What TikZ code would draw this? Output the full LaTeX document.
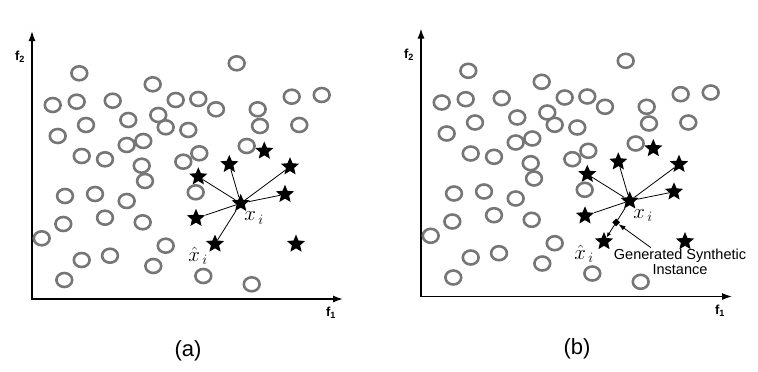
\documentclass[tikz,border=0pt]{standalone}
\usepackage{fontspec}
\setsansfont{Liberation Sans}
\usetikzlibrary{arrows.meta,shapes.geometric,calc}

\definecolor{majgray}{RGB}{118,118,118}

% majority samples (circles), panel coordinates
\newcommand{\majoritypts}{79.3/73.3, 236.7/63.3, 152.7/84.3, 52.7/105, 76.7/101.7,
  112.7/100.7, 175.7/100, 198.3/99, 216/109.3, 257.7/109.3, 291.7/96.7, 321.7/95,
  86/125, 128.3/120, 158.3/115, 165.7/127.3, 188.3/130, 260/126, 299.3/125,
  57.7/136, 126.7/145, 143.3/141, 246.7/146, 81.7/156, 105/159.3, 141.7/165.7,
  183.3/161.7, 199.3/153.3, 145/181, 65/196, 95/194, 126.7/201, 195.7/192.3,
  63.3/224, 105/217.7, 142.7/222.3, 41.7/238.3, 165.7/245.7, 81.7/260, 110/255.7,
  153.3/266, 64.3/280, 203.3/276, 251.7/284.3}

% one scatter panel: axes, circles, minority stars, neighbour lines
% #1 caption, #2 x position of the x-hat label
\newcommand{\smotepanel}[2]{%
  \coordinate (origin) at (32,299);
  \coordinate (ytop) at (32,31);
  \coordinate (xend) at (343,299);
  \draw[axis] (ytop) -- (origin) -- (xend);
  \node[axlabel] (f2) at (20,57) {f\textsubscript{2}};
  \node[axlabel] (f1) at (331,313) {f\textsubscript{1}};
  \foreach \px/\py in \majoritypts
    \draw[majpt] (\px,\py) ellipse [x radius=7.9pt, y radius=7pt];
  \node[minpt] (xi) at (240.7,203.3) {};
  \node[minpt] (s1) at (198.3,176.7) {};
  \node[minpt] (s2) at (229.3,164.3) {};
  \node[minpt] (s3) at (264.3,151) {};
  \node[minpt] (s4) at (290,166.7) {};
  \node[minpt] (s5) at (285,194.3) {};
  \node[minpt] (s6) at (196,218.3) {};
  \node[minpt] (xhat) at (215,244) {};
  \node[minpt] (s7) at (296,244) {};
  \foreach \n in {s1,s2,s4,s5,s6}
    \draw[nbline] (xi) -- (\n);
  \node[mathlabel] (xilabel) at (254,218) {$x_{\,i}$};
  \node[mathlabel] (xhatlabel) at (#2,256) {$\hat{x}_{\,i}$};
  \node[caption] (cap) at (188,351) {#1};
}

\begin{document}
\begin{tikzpicture}[
  x=1pt, y=-1pt,
  axis/.style={{Latex[length=10pt,width=7pt]}-{Latex[length=10pt,width=7pt]}, line width=1.4pt},
  axlabel/.style={font=\sffamily\bfseries\fontsize{13}{14}\selectfont, inner sep=1pt},
  majpt/.style={draw=majgray, line width=2.6pt},
  minpt/.style={star, star points=5, star point ratio=2.2, fill=black, inner sep=0pt, minimum size=19pt},
  nbline/.style={line width=0.8pt},
  mathlabel/.style={font=\fontsize{22}{24}\selectfont, inner sep=0pt},
  caption/.style={font=\sffamily\fontsize{22}{24}\selectfont},
  synth/.style={diamond, fill=black, inner sep=0pt, minimum size=8pt},
  note/.style={font=\sffamily\fontsize{14.5}{15.5}\selectfont, align=center, inner sep=1pt}
]
\useasboundingbox (0,0) rectangle (758,372);

% (a) nearest neighbours of x_i
\begin{scope}[name prefix=a-]
  \smotepanel{(a)}{198}
  \draw[nbline] (xi) -- (xhat);
\end{scope}

% (b) synthetic instance on the line x_i -- x^_i
\begin{scope}[shift={(389,-2.5)}, name prefix=b-]
  \smotepanel{(b)}{195}
  \draw[nbline, -{Latex[length=5pt,width=4pt]}] (xi) -- (xhat);
  \node[synth] (gen) at ($(xi)!0.53!(xhat)$) {};
  \node[note] (genlabel) at (291,264.5) {Generated Synthetic\\Instance};
  \draw[nbline, -{Latex[length=7pt,width=5pt]}] ([xshift=-29pt]genlabel.north) -- (gen);
\end{scope}
\end{tikzpicture}
\end{document}
